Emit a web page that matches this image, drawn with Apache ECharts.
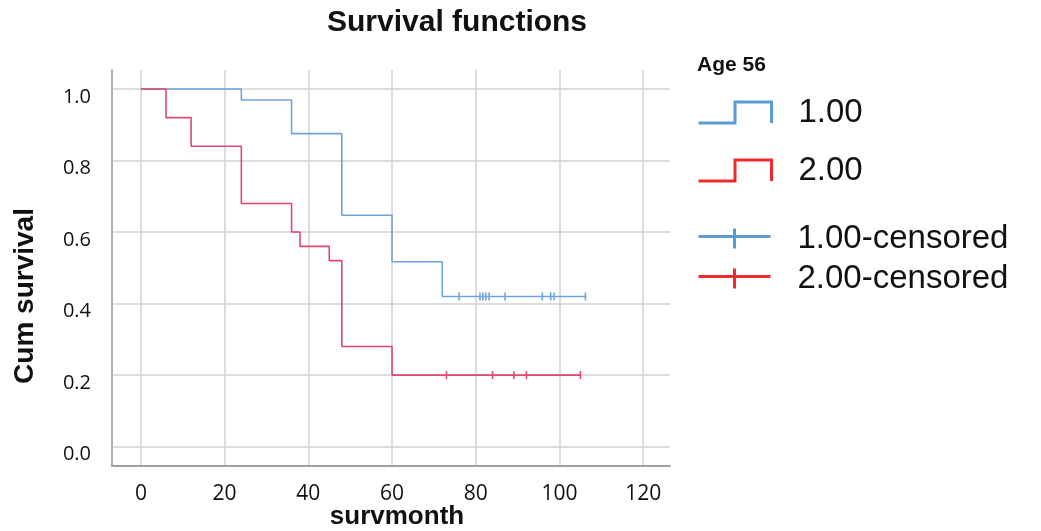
<!DOCTYPE html>
<html><head><meta charset="utf-8">
<script src="https://cdn.jsdelivr.net/npm/echarts@6/dist/echarts.min.js"></script>
<style>html,body{margin:0;padding:0;background:#fff}#c{width:1041px;height:531px}</style>
</head><body><div id="c"></div>
<script>
// ---- data ----
const seriesNames = ['1.00', '2.00', '1.00-censored', '2.00-censored'];
const group1Times = [0, 24, 36, 48, 60, 72, 106.2];
const group1Surv  = [1.0, 0.969, 0.875, 0.647, 0.517, 0.42, 0.42];
const group2Times = [0, 6, 12, 24, 36, 38, 45, 48, 60, 105];
const group2Surv  = [1.0, 0.92, 0.84, 0.68, 0.60, 0.56, 0.52, 0.28, 0.20, 0.20];
const group1CensorTimes = [76, 81, 81.7, 82.4, 83.2, 87, 95.9, 97.9, 98.7, 106.2];
const group1CensorSurv  = [0.42, 0.42, 0.42, 0.42, 0.42, 0.42, 0.42, 0.42, 0.42, 0.42];
const group2CensorTimes = [73, 84, 89.1, 92.1, 105];
const group2CensorSurv  = [0.20, 0.20, 0.20, 0.20, 0.20];
const xTicks = [0, 20, 40, 60, 80, 100, 120];
const yTicks = [0, 0.2, 0.4, 0.6, 0.8, 1.0];

const zip = (a, b) => a.map((v, i) => [v, b[i]]);

const plotBlue = '#6fa3df', plotRed = '#e2476f';
const legBlue = '#5b9bd5', legRed = '#ee2a2f';
const stepIcon = 'path://M0,20L35,20L35,0L70,0L70,20';
const censIcon = 'path://M0,8L72,8M36,0L36,20';
const legText = {fontSize: 33, fontFamily: 'Liberation Sans', color: '#111', padding: [0, 0, 0, 22]};

function legendFor(name, icon, color, top, w, h) {
  return {
    left: 697, top: top, padding: 0, itemWidth: w, itemHeight: h,
    textStyle: legText, selectedMode: false,
    itemStyle: {opacity: 1},
    data: [{name: name, icon: icon, itemStyle: {color: 'rgba(0,0,0,0)', borderColor: color, borderWidth: 3, opacity: 1}}]
  };
}

const chart = echarts.init(document.getElementById('c'), null, {renderer: 'canvas'});
chart.setOption({
  animation: false,
  backgroundColor: '#fff',
  title: [
    {text: 'Survival functions', left: 327, top: 8, padding: 0,
     textStyle: {fontSize: 30, fontWeight: 'bold', fontFamily: 'Liberation Sans', color: '#111'}},
    {text: 'Age 56', left: 697, top: 55, padding: 0,
     textStyle: {fontSize: 21, fontWeight: 'bold', fontFamily: 'Liberation Sans', color: '#111'}}
  ],
  legend: [
    legendFor(seriesNames[0], stepIcon, legBlue, 96, 73, 21),
    legendFor(seriesNames[1], stepIcon, legRed, 154, 73, 21),
    legendFor(seriesNames[2], censIcon, legBlue, 222, 72, 20),
    legendFor(seriesNames[3], censIcon, legRed, 262, 72, 20)
  ],
  grid: {left: 112, top: 70, right: 371, bottom: 65, containLabel: false, outerBoundsMode: 'none'},
  xAxis: {
    type: 'value', min: -6.9, max: 126.4,
    name: 'survmonth', nameLocation: 'middle', nameGap: 38, nameMoveOverlap: false,
    nameTextStyle: {fontSize: 26, fontWeight: 'bold', fontFamily: 'Liberation Sans', color: '#111', padding: [0, 0, 0, 12]},
    axisLine: {show: true, onZero: false, lineStyle: {color: '#a0a0a0', width: 2}},
    axisTick: {show: false, customValues: xTicks},
    axisLabel: {customValues: xTicks, margin: 18, fontSize: 21, fontFamily: 'Open Sans', color: '#111'},
    splitLine: {show: true, lineStyle: {color: '#d2d2d2', width: 1.5}}
  },
  yAxis: {
    type: 'value', min: -0.054, max: 1.053,
    name: 'Cum survival', nameLocation: 'middle', nameGap: 73, nameRotate: 90, nameMoveOverlap: false,
    nameTextStyle: {fontSize: 28, fontWeight: 'bold', fontFamily: 'Liberation Sans', color: '#111', padding: [0, 56, 0, 0]},
    axisLine: {show: true, onZero: false, lineStyle: {color: '#b0b0b0', width: 2}},
    axisTick: {show: false, customValues: yTicks},
    axisLabel: {customValues: yTicks, margin: 21, fontSize: 20, fontFamily: 'Open Sans', color: '#111',
      verticalAlign: 'top', lineHeight: 16, formatter: v => v.toFixed(1)},
    splitLine: {show: true, lineStyle: {color: '#d2d2d2', width: 1.5}}
  },
  series: [
    {name: seriesNames[0], type: 'line', step: 'end', data: zip(group1Times, group1Surv),
     showSymbol: false, symbol: 'none', lineStyle: {color: plotBlue, width: 1.6}, itemStyle: {color: plotBlue}, z: 3},
    {name: seriesNames[1], type: 'line', step: 'end', data: zip(group2Times, group2Surv),
     showSymbol: false, symbol: 'none', lineStyle: {color: plotRed, width: 1.6}, itemStyle: {color: plotRed}, z: 3},
    {name: seriesNames[2], type: 'scatter', data: zip(group1CensorTimes, group1CensorSurv),
     symbol: 'rect', symbolSize: [1.6, 8], itemStyle: {color: plotBlue, opacity: 1}, z: 4},
    {name: seriesNames[3], type: 'scatter', data: zip(group2CensorTimes, group2CensorSurv),
     symbol: 'rect', symbolSize: [1.6, 8], itemStyle: {color: plotRed, opacity: 1}, z: 4}
  ]
});
</script></body></html>
